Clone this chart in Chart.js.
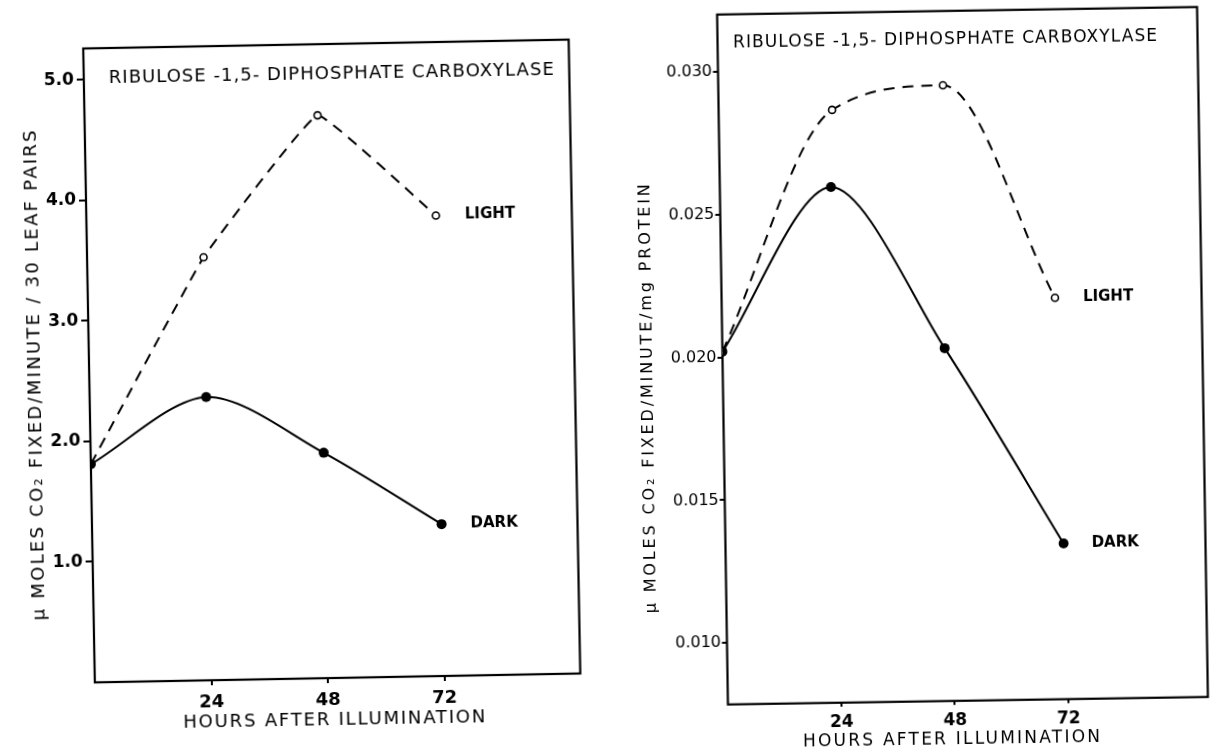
<!DOCTYPE html>
<html><head><meta charset="utf-8">
<script src="https://cdn.jsdelivr.net/npm/chart.js@4.4.1/dist/chart.umd.min.js"></script>
<style>
html,body{margin:0;padding:0;background:#fff;overflow:hidden;width:1211px;height:749px;}
#wrap{position:relative;width:1211px;height:749px;overflow:hidden;background:#fff}
#c1{position:absolute;left:0;top:0;transform-origin:331.5px 361px;transform:rotate(-1.05deg);}
#c2{position:absolute;left:605px;top:0;transform-origin:357.5px 355.75px;transform:rotate(-0.9deg);}
</style></head>
<body><div id="wrap"><canvas id="c1" width="605" height="749"></canvas><canvas id="c2" width="606" height="749"></canvas></div>
<script>
// ---- data ----
const leftHours = [0, 24, 48, 72];
const leftLight = [1.81, 3.51, 4.67, 3.82];
const leftDark  = [1.81, 2.35, 1.87, 1.26];
const leftYTicks = [1, 2, 3, 4, 5];

const rightLightHours = [0, 24, 47.5, 70.5];
const rightLight = [0.0202, 0.0286, 0.0294, 0.0219];
const rightDarkHours = [0, 23.5, 47, 71.5];
const rightDark  = [0.0202, 0.0259, 0.0202, 0.0133];
const rightYTicks = [0.010, 0.015, 0.020, 0.025, 0.030];

const xTicks = [24, 48, 72];
const seriesNames = ['DARK', 'LIGHT'];
const headerText = 'RIBULOSE -1,5- DIPHOSPHATE CARBOXYLASE';
const xTitleText = 'HOURS AFTER ILLUMINATION';
const leftYTitle = '\u03BC MOLES CO\u2082 FIXED/MINUTE / 30 LEAF PAIRS';
const rightYTitle = '\u03BC MOLES CO\u2082 FIXED/MINUTE/mg PROTEIN';
const leftTickFmt = v => v.toFixed(1);
const rightTickFmt = v => v.toFixed(3);

// ---- helpers ----
function pts(xs, ys){ return xs.map((x,i)=>({x:x, y:ys[i]})); }

function drawSpaced(ctx, text, x, y, font, width, align){
  ctx.font = font; ctx.textBaseline = 'middle'; ctx.textAlign = 'left';
  if ('letterSpacing' in ctx) ctx.letterSpacing = '0px';
  const w = ctx.measureText(text).width;
  const n = [...text].length;
  let ls = width ? (width - w) / (n - 1) : 0;
  if ('letterSpacing' in ctx) ctx.letterSpacing = ls + 'px'; else ls = 0;
  const total = w + ls * (n - 1);
  const sx = align === 'center' ? x - total / 2 : x;
  ctx.fillText(text, sx, y);
  if ('letterSpacing' in ctx) ctx.letterSpacing = '0px';
}

const deco = {
  id: 'deco',
  beforeDatasetsDraw(chart, args, o){
    const {ctx, chartArea: a} = chart;
    ctx.save();
    ctx.strokeStyle = '#000'; ctx.lineWidth = o.frameWidth;
    ctx.strokeRect(a.left, a.top, a.right - a.left, a.bottom - a.top);
    ctx.restore();
  },
  afterDatasetsDraw(chart, args, o){
    const {ctx, chartArea: a} = chart;
    ctx.save();
    ctx.fillStyle = '#000';
    drawSpaced(ctx, o.header, a.left + o.headerDx, a.top + o.headerDy, o.headerFont, o.headerWidth, 'left');
    drawSpaced(ctx, o.xTitle, (a.left + a.right) / 2 + o.xTitleDx, a.bottom + o.xTitleDy, o.xTitleFont, o.xTitleWidth, 'center');
    ctx.save();
    ctx.translate(a.left - o.yTitleDx, (a.top + a.bottom) / 2 + o.yTitleDy);
    ctx.rotate(-Math.PI / 2);
    drawSpaced(ctx, o.yTitle, 0, 0, o.yTitleFont, o.yTitleWidth, 'center');
    ctx.restore();
    chart.data.datasets.forEach((ds, i) => {
      const meta = chart.getDatasetMeta(i);
      const last = meta.data[meta.data.length - 1];
      drawSpaced(ctx, ds.label, last.x + o.labelGap, last.y, o.labelFont, 0, 'left');
    });
    ctx.restore();
  }
};

function makeChart(canvas, cfg){
  return new Chart(canvas, {
    type: 'line',
    data: {
      datasets: [
        { label: seriesNames[0], data: cfg.dark, borderColor: '#000', backgroundColor: '#000',
          borderWidth: 2, pointRadius: cfg.darkR, pointBorderWidth: 0, tension: cfg.darkTension, fill: false },
        { label: seriesNames[1], data: cfg.light, borderColor: '#000', backgroundColor: '#fff',
          borderWidth: 2, borderDash: [11, 8], pointRadius: cfg.lightR, pointBorderWidth: 1.6,
          pointBorderColor: '#000', pointBackgroundColor: '#fff',
          tension: cfg.lightTension, cubicInterpolationMode: cfg.lightMode, fill: false }
      ]
    },
    options: {
      responsive: false, maintainAspectRatio: false, animation: false,
      layout: { padding: cfg.padding },
      plugins: { legend: { display: false }, tooltip: { enabled: false }, deco: cfg.deco },
      elements: { line: { borderCapStyle: 'butt' } },
      scales: {
        x: {
          type: 'linear', min: 0, max: cfg.xMax,
          afterBuildTicks: s => { s.ticks = xTicks.map(v => ({value: v})); },
          afterFit: s => { s.height = cfg.xHeight; },
          border: { display: false },
          grid: { display: true, drawOnChartArea: false, drawTicks: true, tickLength: cfg.xTickLen, color: '#000', lineWidth: 2 },
          ticks: { color: '#000', font: cfg.xTickFont, padding: cfg.xTickPad, maxRotation: 0 },
          title: { display: false, text: xTitleText }
        },
        y: {
          type: 'linear', min: cfg.yMin, max: cfg.yMax,
          afterBuildTicks: s => { s.ticks = cfg.yTicks.map(v => ({value: v})); },
          afterFit: s => { s.width = cfg.yWidth; },
          border: { display: false },
          grid: { display: true, drawOnChartArea: false, drawTicks: true, tickLength: cfg.yTickLen, color: '#000', lineWidth: 2 },
          ticks: { color: '#000', font: cfg.yTickFont, padding: cfg.yTickPad, callback: cfg.fmt }
        }
      }
    },
    plugins: [deco]
  });
}

const FF = '"DejaVu Sans", sans-serif';

makeChart(document.getElementById('c1'), {
  dark: pts(leftHours, leftDark), light: pts(leftHours, leftLight),
  darkR: 5, lightR: 3.5, darkTension: 0.3, lightTension: 0.08, lightMode: 'default',
  padding: { left: 0, top: 44, right: 30.5, bottom: 19 },
  xMax: 100, xHeight: 52, xTickLen: 5, xTickPad: 7,
  xTickFont: { family: FF, size: 18, weight: 'bold' },
  yMin: 0, yMax: 5.26, yTicks: leftYTicks, yWidth: 89, yTickLen: 7, yTickPad: 3,
  yTickFont: { family: FF, size: 17, weight: 'bold' }, fmt: leftTickFmt,
  deco: {
    frameWidth: 2.2, header: headerText, headerDx: 25, headerDy: 30, headerWidth: 445,
    headerFont: '18px ' + FF,
    xTitle: xTitleText, xTitleDx: -4, xTitleDy: 42, xTitleWidth: 302, xTitleFont: '18px ' + FF,
    yTitle: leftYTitle, yTitleDx: 54, yTitleDy: 9, yTitleWidth: 490, yTitleFont: '18px ' + FF,
    labelGap: 29, labelFont: 'bold 15px ' + FF
  }
});

makeChart(document.getElementById('c2'), {
  dark: pts(rightDarkHours, rightDark), light: pts(rightLightHours, rightLight),
  darkR: 5, lightR: 3.5, darkTension: 0.3, lightTension: 0.35, lightMode: 'monotone',
  padding: { left: 0, top: 10.75, right: 8.5, bottom: 0 },
  xMax: 101.5, xHeight: 48.25, xTickLen: 4, xTickPad: 6,
  xTickFont: { family: FF, size: 17, weight: 'bold' },
  yMin: 0.00785, yMax: 0.0320, yTicks: rightYTicks, yWidth: 117.5, yTickLen: 5, yTickPad: 1,
  yTickFont: { family: FF, size: 16, weight: 'normal' }, fmt: rightTickFmt,
  deco: {
    frameWidth: 2.2, header: headerText, headerDx: 15.5, headerDy: 29, headerWidth: 424,
    headerFont: '17px ' + FF,
    xTitle: xTitleText, xTitleDx: -17, xTitleDy: 39, xTitleWidth: 297, xTitleFont: '17px ' + FF,
    yTitle: rightYTitle, yTitleDx: 75, yTitleDy: 38, yTitleWidth: 429, yTitleFont: '16px ' + FF,
    labelGap: 28, labelFont: 'bold 15px ' + FF
  }
});
</script>
</body></html>
